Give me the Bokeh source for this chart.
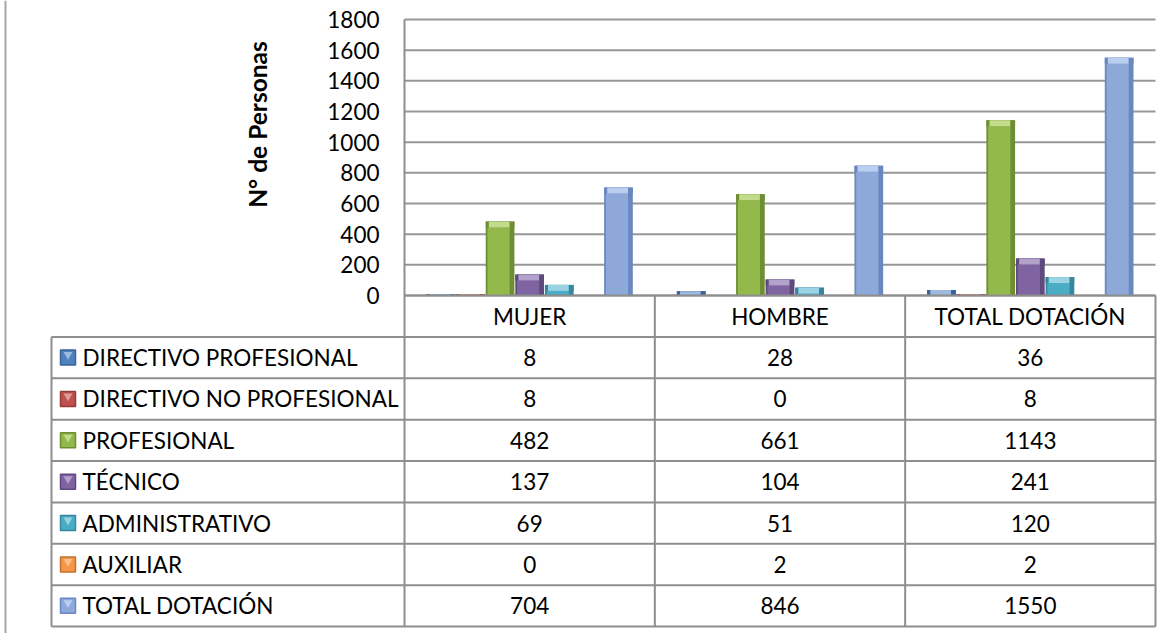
import math
from bokeh.plotting import figure
from bokeh.models import Range1d, ColumnDataSource
from bokeh.transform import dodge
from bokeh.core.properties import value
from bokeh.embed import file_html
from bokeh.resources import INLINE

# ---------------- data ----------------
categories = ["MUJER", "HOMBRE", "TOTAL DOTACIÓN"]
series_names = ["DIRECTIVO PROFESIONAL", "DIRECTIVO NO PROFESIONAL", "PROFESIONAL",
                "TÉCNICO", "ADMINISTRATIVO", "AUXILIAR", "TOTAL DOTACIÓN"]
directivo_profesional = [8, 28, 36]
directivo_no_profesional = [8, 0, 8]
profesional = [482, 661, 1143]
tecnico = [137, 104, 241]
administrativo = [69, 51, 120]
auxiliar = [0, 2, 2]
total_dotacion = [704, 846, 1550]
y_ticks = [0, 200, 400, 600, 800, 1000, 1200, 1400, 1600, 1800]
y_title = "N° de Personas"

series_values = [directivo_profesional, directivo_no_profesional, profesional,
                 tecnico, administrativo, auxiliar, total_dotacion]

# ---------------- styles / layout (pixels) ----------------
FONT = "Lato"
FS = "22.5px"
main_cols = ["#4F81BD", "#C0504D", "#93B94A", "#8064A2", "#4BACC6", "#F79646", "#8DA8D9"]
dark_cols = ["#3A6396", "#953C39", "#6F8E34", "#5E4A7C", "#35879D", "#C0712F", "#6A88BF"]
light_cols = ["#9DB9DD", "#DC9D9B", "#C2DC8C", "#B2A2CB", "#9AD4E4", "#FBC08F", "#BACEEF"]
GRID = "#979797"
LINE = "#8E8E8E"
BORDER = "#A6A6A6"

W, H = 1170, 633
X0_PX = 404            # left edge of the plot area / value columns
COL_W = 751 / 3.0      # width of one category column
LABEL_W = 353          # width of the label column of the table
Y0_PX = 295            # baseline (value 0)
TOP_FRAME_H = 276      # from 0 to the top tick
TABLE_BOTTOM_PX = 626
BORDER_X_PX = 5
TITLE_X_PX, TITLE_Y_PX = 257, 124
SLOT_PX = 29.6
CAP_PX = 6

n_cat = len(categories)
n_ser = len(series_names)
ymax = y_ticks[-1]
px_per_unit = TOP_FRAME_H / ymax
row_h = (TABLE_BOTTOM_PX - Y0_PX) / (n_ser + 1)


def px_x(px):
    return (px - X0_PX) / COL_W


def px_chart_y(py):
    return (Y0_PX - py) / px_per_unit


def px_table_y(py):
    return (py - Y0_PX) / row_h


SLOT = SLOT_PX / COL_W
cap_units = CAP_PX / px_per_unit

p = figure(width=W, height=H, x_range=Range1d(px_x(0), px_x(W)),
           y_range=Range1d(px_chart_y(H), px_chart_y(0)),
           output_backend="svg", toolbar_location=None,
           x_axis_location=None, y_axis_location=None, min_border=0)
p.extra_y_ranges = {"table": Range1d(px_table_y(H), px_table_y(0))}
p.grid.visible = False
p.outline_line_color = None
p.background_fill_color = "white"
p.border_fill_color = "white"

cat_x = [i + 0.5 for i in range(n_cat)]
x_left = px_x(X0_PX - LABEL_W)

# outer chart border (left edge)
p.segment(x0=[px_x(BORDER_X_PX)], y0=[px_table_y(0)], x1=[px_x(BORDER_X_PX)], y1=[px_table_y(H)],
          y_range_name="table", line_color=BORDER, line_width=2)

# horizontal gridlines
p.segment(x0=[0] * len(y_ticks), y0=y_ticks, x1=[n_cat] * len(y_ticks), y1=y_ticks,
          line_color=GRID, line_width=2)

# y tick labels
p.text(x=[0] * len(y_ticks), y=y_ticks, text=[str(t) for t in y_ticks], x_offset=-25,
       text_align="right", text_baseline="middle", text_font=value(FONT),
       text_font_size=FS, text_color="black")

# y title
p.text(x=[px_x(TITLE_X_PX)], y=[px_chart_y(TITLE_Y_PX)], text=[y_title], angle=math.pi / 2,
       text_align="center", text_baseline="middle", text_font=value(FONT),
       text_font_size="24.5px", text_font_style="bold", text_color="black")

# bars (3D-like: dark edges, main body, light bevelled top)
for s, vals in enumerate(series_values):
    src = ColumnDataSource(dict(x=cat_x, top=vals,
                                cap=[max(0, v - cap_units) for v in vals]))
    off = (s - (n_ser - 1) / 2) * SLOT
    p.vbar(x=dodge("x", off), top="top", bottom=0, width=SLOT * 0.97,
           fill_color=dark_cols[s], line_color=None, source=src)
    p.vbar(x=dodge("x", off - SLOT * 0.05), top="top", bottom=0,
           width=SLOT * 0.75, fill_color=main_cols[s], line_color=None, source=src)
    p.vbar(x=dodge("x", off), top="top", bottom="cap", width=SLOT * 0.97,
           fill_color=dark_cols[s], line_color=None, source=src)
    p.vbar(x=dodge("x", off - SLOT * 0.03), top="top", bottom="cap", width=SLOT * 0.7,
           fill_color=light_cols[s], line_color=None, source=src)

# y axis line
p.segment(x0=[0], y0=[0], x1=[0], y1=[ymax], line_color=LINE, line_width=2)

# ---------------- data table ----------------
rows_total = n_ser + 1
p.segment(x0=list(range(n_cat + 1)), y0=[0] * (n_cat + 1), x1=list(range(n_cat + 1)),
          y1=[rows_total] * (n_cat + 1), y_range_name="table", line_color=LINE, line_width=2)
p.segment(x0=[x_left], y0=[1], x1=[x_left], y1=[rows_total], y_range_name="table",
          line_color=LINE, line_width=2)
p.segment(x0=[x_left] * n_ser + [x_left], y0=list(range(1, rows_total + 1)),
          x1=[n_cat] * (n_ser + 1), y1=list(range(1, rows_total + 1)),
          y_range_name="table", line_color=LINE, line_width=2)
p.segment(x0=[0], y0=[0], x1=[n_cat], y1=[0], y_range_name="table",
          line_color=LINE, line_width=2)

# header
p.text(x=cat_x, y=[0.5] * n_cat, text=categories, y_range_name="table",
       text_align="center", text_baseline="middle", text_font=value(FONT),
       text_font_size=FS, text_color="black")

row_y = [r + 1.5 for r in range(n_ser)]
key_x = x_left + 16.5 / COL_W
p.scatter(x=[key_x] * n_ser, y=row_y, marker="square", size=15, y_range_name="table",
          fill_color=main_cols, line_color=dark_cols, line_width=1.5)
p.scatter(x=[key_x] * n_ser, y=[r - 0.07 for r in row_y], marker="inverted_triangle",
          size=9, fill_color=light_cols, line_color=None, y_range_name="table")
p.text(x=[x_left] * n_ser, y=row_y, text=series_names, x_offset=31, y_range_name="table",
       text_align="left", text_baseline="middle", text_font=value(FONT),
       text_font_size=FS, text_color="black")
for j in range(n_cat):
    p.text(x=[cat_x[j]] * n_ser, y=row_y, text=[str(v[j]) for v in series_values],
           y_range_name="table", text_align="center", text_baseline="middle",
           text_font=value(FONT), text_font_size=FS, text_color="black")

open("out.html", "w").write(file_html(p, INLINE))
